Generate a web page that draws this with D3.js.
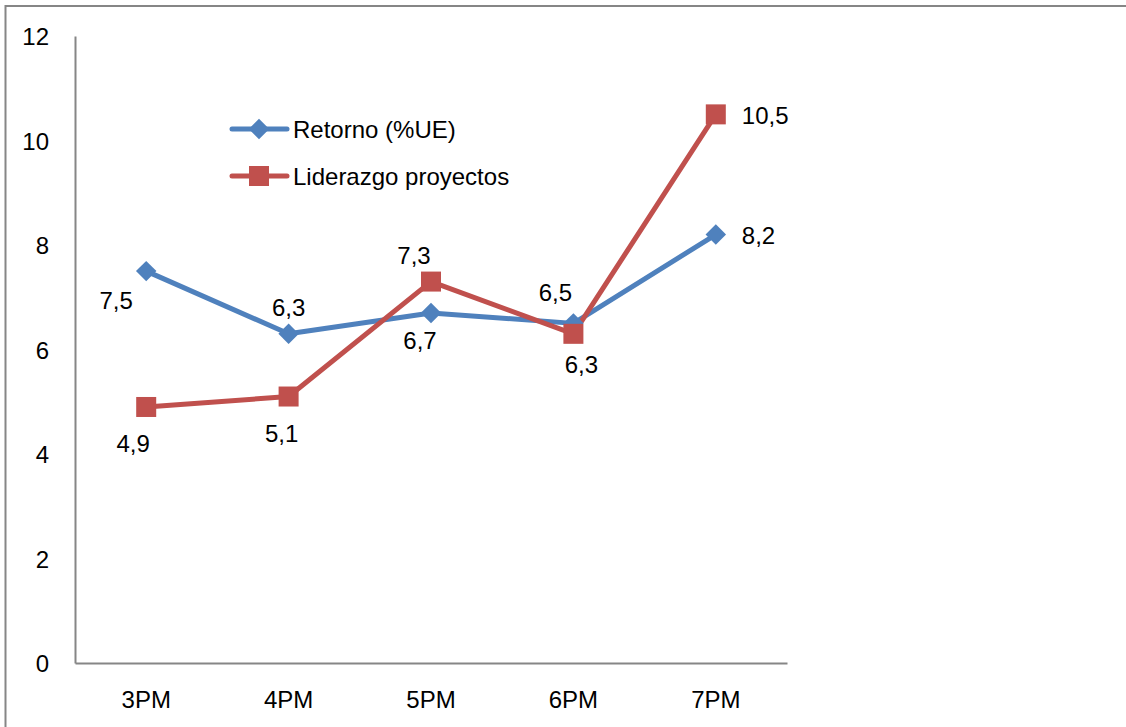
<!DOCTYPE html>
<html>
<head>
<meta charset="utf-8">
<script src="https://cdn.jsdelivr.net/npm/d3@7"></script>
<style>
  html, body { margin: 0; padding: 0; background: #fff; }
  svg { display: block; }
  text { font-family: "Liberation Sans", Arial, sans-serif; fill: #000; }
</style>
</head>
<body>
<svg id="chart" width="1126" height="727"></svg>
<script>
// ---- data ----
const categories = ["3PM", "4PM", "5PM", "6PM", "7PM"];
const retorno = [7.5, 6.3, 6.7, 6.5, 8.2];
const liderazgo = [4.9, 5.1, 7.3, 6.3, 10.5];
const seriesNames = ["Retorno (%UE)", "Liderazgo proyectos"];
const yTicks = [0, 2, 4, 6, 8, 10, 12];
const labelText = v => String(v).replace(".", ",");

// label offsets (layout, not data)
const retornoLabelOffsets = [[-30, 29, "middle"], [0, -26, "middle"], [-11, 27, "middle"], [-18, -31, "middle"], [26, 1, "start"]];
const liderazgoLabelOffsets = [[-13, 36, "middle"], [-7, 37, "middle"], [-17, -26, "middle"], [8, 31, "middle"], [26, 1, "start"]];

(function () {
const svg = d3.select("#chart");
const blue = "#4F81BD", red = "#C0504D", axisGray = "#868686";
const fs = 24;

// outer border
svg.append("rect").attr("x", 5.5).attr("y", 6).attr("width", 1140).attr("height", 740)
  .attr("fill", "none").attr("stroke", axisGray).attr("stroke-width", 2);

const mLeft = 75, mRight = 787, mTop = 36, mBottom = 663;
const x = d3.scaleBand().domain(categories).range([mLeft, mRight]);
const y = d3.scaleLinear().domain([0, 12]).range([mBottom, mTop]);
const cx = c => x(c) + x.bandwidth() / 2;

// y axis
const yAxis = svg.append("g").attr("transform", `translate(${mLeft},0)`)
  .call(d3.axisLeft(y).tickValues(yTicks).tickSize(0).tickPadding(26).tickFormat(d => d));
yAxis.select(".domain").attr("stroke", axisGray).attr("stroke-width", 2);
yAxis.selectAll("text").attr("font-size", fs).attr("dy", "0.36em")
  .style("font-family", "'Liberation Sans', Arial, sans-serif").attr("fill", "#000");

// x axis
const xAxis = svg.append("g").attr("transform", `translate(0,${mBottom})`)
  .call(d3.axisBottom(x).tickSize(0).tickPadding(28));
xAxis.select(".domain").attr("stroke", axisGray).attr("stroke-width", 2);
xAxis.selectAll("text").attr("font-size", fs)
  .style("font-family", "'Liberation Sans', Arial, sans-serif").attr("fill", "#000");

const line = d3.line().x((d, i) => cx(categories[i])).y(d => y(d));

svg.append("path").datum(retorno).attr("d", line)
  .attr("fill", "none").attr("stroke", blue).attr("stroke-width", 5).attr("stroke-linejoin", "round");
svg.append("path").datum(liderazgo).attr("d", line)
  .attr("fill", "none").attr("stroke", red).attr("stroke-width", 5).attr("stroke-linejoin", "round");

const sq = d3.symbol().type(d3.symbolSquare).size(210)();
svg.append("g").selectAll("path").data(retorno).join("path")
  .attr("d", sq)
  .attr("transform", (d, i) => `translate(${cx(categories[i])},${y(d)}) rotate(45)`)
  .attr("fill", blue);
svg.append("g").selectAll("rect").data(liderazgo).join("rect")
  .attr("x", (d, i) => cx(categories[i]) - 10).attr("y", d => y(d) - 10)
  .attr("width", 20).attr("height", 20).attr("fill", red);

function labels(data, offs) {
  svg.append("g").selectAll("text").data(data).join("text")
    .attr("x", (d, i) => cx(categories[i]) + offs[i][0])
    .attr("y", (d, i) => y(d) + offs[i][1])
    .attr("dy", "0.36em")
    .attr("text-anchor", (d, i) => offs[i][2])
    .attr("font-size", fs)
    .text(d => labelText(d));
}
labels(retorno, retornoLabelOffsets);
labels(liderazgo, liderazgoLabelOffsets);

// legend
const legend = svg.append("g").attr("transform", "translate(232,129)");
const lg = legend.selectAll("g").data(seriesNames).join("g")
  .attr("transform", (d, i) => `translate(0,${i * 47})`);
lg.append("line").attr("x1", 0).attr("x2", 55).attr("y1", 0).attr("y2", 0)
  .attr("stroke", (d, i) => i === 0 ? blue : red).attr("stroke-width", 5).attr("stroke-linecap", "round");
lg.filter((d, i) => i === 0).append("path")
  .attr("d", sq).attr("transform", "translate(27,0) rotate(45)").attr("fill", blue);
lg.filter((d, i) => i === 1).append("rect")
  .attr("x", 17).attr("y", -10).attr("width", 20).attr("height", 20).attr("fill", red);
lg.append("text").attr("x", 61).attr("y", 0).attr("dy", "0.36em")
  .attr("font-size", fs).text(d => d);
})();
</script>
</body>
</html>
